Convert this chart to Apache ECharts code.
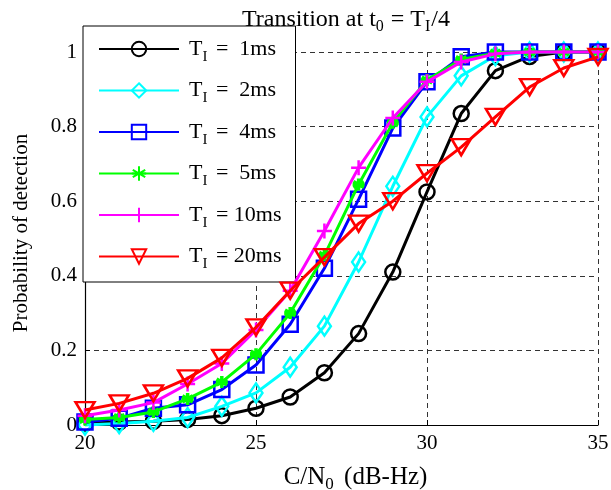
<!DOCTYPE html>
<html>
<head>
<meta charset="utf-8">
<script src="https://cdn.jsdelivr.net/npm/echarts@6/dist/echarts.min.js"></script>
<style>html,body{margin:0;padding:0;background:#fff}#c{width:611px;height:490px}</style>
</head>
<body>
<div id="c"></div>
<script>
const xValues = [20,21,22,23,24,25,26,27,28,29,30,31,32,33,34,35];
const seriesNames = ['1ms','2ms','4ms','5ms','10ms','20ms'];
const ti1ms  = [0.005,0.008,0.01,0.015,0.025,0.045,0.075,0.14,0.245,0.41,0.625,0.835,0.95,0.988,1,1];
const ti2ms  = [0.0,0.004,0.01,0.02,0.05,0.086,0.155,0.265,0.437,0.64,0.826,0.936,0.99,1,1,1];
const ti4ms  = [0.008,0.018,0.045,0.054,0.095,0.161,0.27,0.42,0.605,0.796,0.92,0.987,1,1,1,1];
const ti5ms  = [0.015,0.02,0.035,0.07,0.115,0.19,0.3,0.455,0.645,0.81,0.925,0.98,0.997,1,1,1];
const ti10ms = [0.025,0.04,0.06,0.11,0.165,0.255,0.36,0.52,0.69,0.823,0.92,0.973,0.995,1,1,1];
const ti20ms = [0.04,0.058,0.085,0.125,0.18,0.262,0.36,0.45,0.54,0.6,0.675,0.745,0.826,0.906,0.957,0.987];
const xTicks = [20,25,30,35];
const yTicks = [0,0.2,0.4,0.6,0.8,1];

const allData = [ti1ms, ti2ms, ti4ms, ti5ms, ti10ms, ti20ms];
const colors = ['#000000','#00ffff','#0000ff','#00ff00','#ff00ff','#ff0000'];
const symbols = [
  'circle',
  'diamond',
  'rect',
  'path://M0,-10 L0,10 M-8.66,-5 L8.66,5 M-8.66,5 L8.66,-5 M-10,0 L10,0',
  'path://M0,-10 L0,10 M-10,0 L10,0',
  'triangle'
];
const sizes = [15,[13,19],15,12,15,[19,16]];
const FONT = '"Liberation Serif", "Times New Roman", serif';

const series = allData.map((d, i) => ({
  name: seriesNames[i],
  type: 'line',
  data: d.map((v, j) => [xValues[j], v]),
  symbol: symbols[i],
  symbolSize: sizes[i],
  symbolRotate: i === 5 ? 180 : 0,
  showAllSymbol: true,
  clip: false,
  lineStyle: { color: colors[i], width: 3 },
  itemStyle: {
    color: i === 3 ? colors[i] : 'rgba(0,0,0,0)',
    borderColor: colors[i],
    borderWidth: i === 3 ? 3.5 : 2.5
  },
  emphasis: { disabled: true },
  z: 2 + i
}));

const chart = echarts.init(document.getElementById('c'), null, { renderer: 'canvas' });
chart.setOption({
  animation: false,
  backgroundColor: '#fff',
  title: {
    text: '{n|Transition at t}{s|0}{n| = T}{s|I}{n|/4}',
    left: 341,
    textAlign: 'center',
    top: 0,
    textStyle: {
      fontWeight: 'normal',
      rich: {
        n: { fontFamily: FONT, fontSize: 24, color: '#000', fontWeight: 'normal' },
        s: { fontFamily: FONT, fontSize: 16, color: '#000', fontWeight: 'normal', padding: [14, 1, 0, 0] }
      }
    }
  },
  grid: { left: 85, right: 13, top: 52, bottom: 65, containLabel: false, outerBoundsMode: 'none' },
  xAxis: {
    type: 'value',
    min: 20, max: 35, interval: 5,
    name: '{n|C/N}{s|0}{n| (dB-Hz)}',
    nameLocation: 'middle',
    nameGap: 37,
    nameTextStyle: {
      padding: [0, 0, 0, 28],
      rich: {
        n: { fontFamily: FONT, fontSize: 25, color: '#000' },
        s: { fontFamily: FONT, fontSize: 17, color: '#000', padding: [14, 4, 0, 0] }
      }
    },
    axisLine: { show: true, onZero: false, lineStyle: { color: '#000', width: 1.2 } },
    axisTick: { show: true, inside: true, length: 5, lineStyle: { color: '#000' } },
    axisLabel: { fontFamily: FONT, fontSize: 21, color: '#000', margin: 8,
      formatter: v => xTicks.includes(v) ? String(v) : '' },
    splitLine: { show: true, lineStyle: { color: '#333', type: [5, 4], width: 1 } }
  },
  yAxis: {
    type: 'value',
    min: 0, max: 1, interval: 0.2,
    name: 'Probability of detection',
    nameLocation: 'middle',
    nameGap: 53,
    nameTextStyle: { fontFamily: FONT, fontSize: 21, color: '#000', padding: [0, 0, 0, 11] },
    axisLine: { show: true, onZero: false, lineStyle: { color: '#000', width: 1.2 } },
    axisTick: { show: true, inside: true, length: 5, lineStyle: { color: '#000' } },
    axisLabel: { fontFamily: FONT, fontSize: 21, color: '#000', margin: 8,
      formatter: v => { const t = yTicks.find(y => Math.abs(y - v) < 1e-9); return t === undefined ? '' : String(t); } },
    splitLine: { show: true, lineStyle: { color: '#333', type: [5, 4], width: 1 } }
  },
  legend: {
    orient: 'vertical',
    left: 83,
    top: 26,
    padding: [12, 14, 10, 15],
    itemGap: 15,
    itemWidth: 80,
    itemHeight: 18,
    backgroundColor: '#fff',
    borderColor: '#000',
    borderWidth: 1,
    borderRadius: 0,
    selectedMode: false,
    data: seriesNames,
    formatter: name => {
      const pad = name.length === 3 ? '  ' : ' ';
      return '{n|T}{s|I}{n| =' + pad + name + '}';
    },
    textStyle: {
      padding: [0, 0, 0, 5],
      rich: {
        n: { fontFamily: FONT, fontSize: 22, color: '#000' },
        s: { fontFamily: FONT, fontSize: 15, color: '#000', padding: [16, 3, 0, 0] }
      }
    }
  },
  series: series
});
</script>
</body>
</html>
